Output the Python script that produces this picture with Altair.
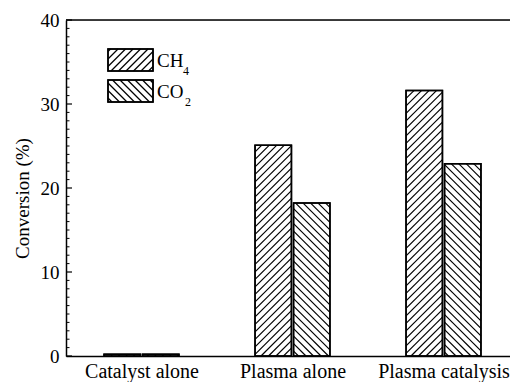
import json
import math
import numpy as np
import pandas as pd
import altair as alt

# ---- data ----
categories = ["Catalyst alone", "Plasma alone", "Plasma catalysis"]
ch4 = [0.2, 25.1, 31.6]
co2 = [0.2, 18.2, 22.9]
series_names = ["CH", "CO"]
series_subs = ["4", "2"]

# ---- layout constants (pixels) ----
W, H = 444, 336
PX_X = 151.0          # px per category step
PX_Y = H / 40.0       # px per % unit
XMAX = W / PX_X
FONT = "Liberation Serif"
HALF_BAR = 0.248
GAP = 0.007
SPACING = 7.5


def hatch(x0, x1, y0, y1, direction):
    X0, X1, Y0, Y1 = x0 * PX_X, x1 * PX_X, y0 * PX_Y, y1 * PX_Y
    segs = []
    if direction == "/":
        kmin, kmax = X0 - Y1, X1 - Y0
        k = math.ceil(kmin / SPACING) * SPACING
        while k < kmax:
            xa, xb = max(X0, Y0 + k), min(X1, Y1 + k)
            if xb - xa > 0.3:
                segs.append((xa, xa - k, xb, xb - k))
            k += SPACING
    else:
        kmin, kmax = X0 + Y0, X1 + Y1
        k = math.ceil(kmin / SPACING) * SPACING
        while k < kmax:
            xa, xb = max(X0, k - Y1), min(X1, k - Y0)
            if xb - xa > 0.3:
                segs.append((xa, k - xa, xb, k - xb))
            k += SPACING
    return [dict(x=a / PX_X, y=b / PX_Y, x2=c / PX_X, y2=d / PX_Y) for a, b, c, d in segs]


bars = []
for i, cat in enumerate(categories):
    c = i + 0.5
    bars.append(dict(cat=cat, s="CH4", x=c - HALF_BAR, x2=c - GAP, y=0, y2=ch4[i], d="/"))
    bars.append(dict(cat=cat, s="CO2", x=c + GAP, x2=c + HALF_BAR, y=0, y2=co2[i], d="\\"))


def px2x(px):
    return (px - 66) / PX_X


def px2y(py):
    return 40 - (py - 20) / PX_Y


legend_boxes = [
    dict(x=px2x(108), x2=px2x(153), y=px2y(71), y2=px2y(49), d="/"),
    dict(x=px2x(108), x2=px2x(153), y=px2y(102), y2=px2y(80), d="\\"),
]

rects = pd.DataFrame(bars + legend_boxes)
hatches = []
for r in bars + legend_boxes:
    hatches += hatch(r["x"], r["x2"], r["y"], r["y2"], r["d"])
hatch_df = pd.DataFrame(hatches)

legend_text = pd.DataFrame([
    dict(x=px2x(157), y=px2y(61), t=series_names[0]),
    dict(x=px2x(157), y=px2y(92), t=series_names[1]),
])
legend_sub = pd.DataFrame([
    dict(x=px2x(183), y=px2y(71), t=series_subs[0]),
    dict(x=px2x(185), y=px2y(102), t=series_subs[1]),
])

xs = alt.Scale(domain=[0, XMAX], nice=False, zero=False)
ys = alt.Scale(domain=[0, 40], nice=False, zero=False)

label_expr = json.dumps(categories) + "[floor(datum.value)]"

x_axis = alt.Axis(
    values=[0.5, 1.5, 2.5], labelExpr=label_expr, title=None, ticks=False, grid=False,
    labelPadding=5, labelFlush=False, labelOverlap=False, labelFontSize=20)
y_axis = alt.Axis(
    values=[0, 10, 20, 30, 40], format="d", ticks=False, grid=False, labelPadding=7,
    title="Conversion (%)", titleX=-44, titleY=178, titleAngle=-90,
    titleAlign="center", titleBaseline="middle")

X = alt.X("x:Q", scale=xs, axis=x_axis, title=None)
Y = alt.Y("y:Q", scale=ys, axis=y_axis, title="Conversion (%)")

base_rect = alt.Chart(rects).mark_rect(fill="white", stroke="black", strokeWidth=1.5).encode(
    x=X, x2="x2:Q", y=Y, y2="y2:Q")

hatch_layer = alt.Chart(hatch_df).mark_rule(color="black", strokeWidth=1.2).encode(
    x=X, x2="x2:Q", y=Y, y2="y2:Q")

outline = alt.Chart(rects).mark_rect(fill=None, stroke="black", strokeWidth=1.5).encode(
    x=X, x2="x2:Q", y=Y, y2="y2:Q")

major = pd.DataFrame({"y": [0, 10, 20, 30, 40]})
minor = pd.DataFrame({"y": [v for v in range(0, 41) if v % 10]})
major_ticks = alt.Chart(major).mark_rule(color="black", strokeWidth=1.2).encode(
    y=Y, x=alt.value(0), x2=alt.value(6))
minor_ticks = alt.Chart(minor).mark_rule(color="black", strokeWidth=1.0).encode(
    y=Y, x=alt.value(0), x2=alt.value(3.5))

top_border = alt.Chart(pd.DataFrame({"y": [40]})).mark_rule(color="black", strokeWidth=1.5).encode(
    y=Y)

ltext = alt.Chart(legend_text).mark_text(font=FONT, fontSize=19, align="left", baseline="middle", color="black").encode(
    x=X, y=Y, text="t:N")
lsub = alt.Chart(legend_sub).mark_text(font=FONT, fontSize=12, align="left", baseline="middle", color="black").encode(
    x=X, y=Y, text="t:N")

chart = alt.layer(base_rect, hatch_layer, outline, major_ticks, minor_ticks, top_border, ltext, lsub).properties(
    width=W, height=H,
    autosize=alt.AutoSizeParams(type="none"),
    padding={"left": 66, "top": 20, "right": 0, "bottom": 26},
).configure_view(stroke=None).configure(background="white").configure_axis(
    labelFont=FONT, labelFontSize=19, labelColor="black",
    titleFont=FONT, titleFontSize=19, titleFontWeight="normal", titleColor="black",
    domainColor="black", domainWidth=1.5,
)

chart.save("out.html", embed_options={"renderer": "svg", "actions": False})
